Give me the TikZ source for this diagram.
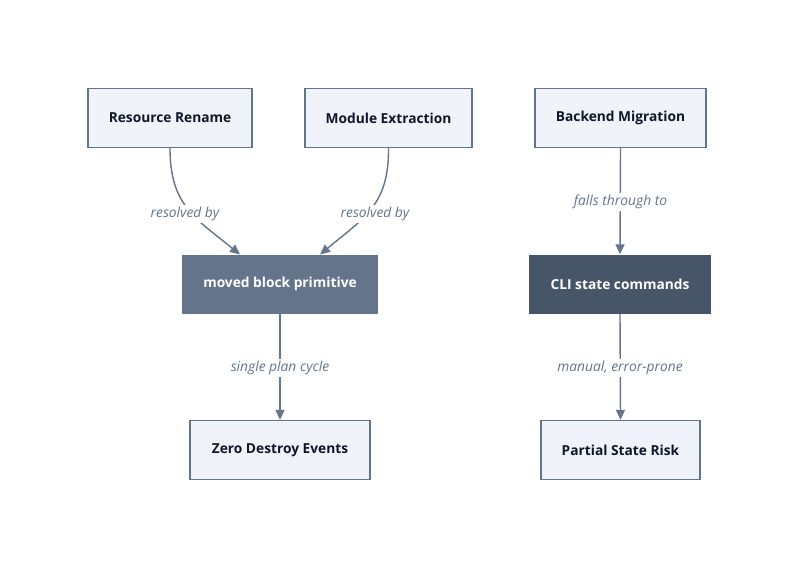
\documentclass[tikz,border=0pt]{standalone}
\usepackage{fontspec}
\setmainfont{Open Sans}
\usetikzlibrary{arrows.meta}
\definecolor{lightfill}{HTML}{F0F3F9}
\definecolor{edge}{HTML}{64748B}
\definecolor{darkA}{HTML}{64748B}
\definecolor{darkB}{HTML}{475569}
\definecolor{txt}{HTML}{0F172A}
\definecolor{lbl}{HTML}{64748B}
\begin{document}
\begin{tikzpicture}[x=1pt,y=-1pt,
  lightbox/.style={draw=edge,line width=1.3pt,fill=lightfill,text=txt,font=\bfseries\fontsize{13.75}{16}\selectfont,minimum height=59pt,inner sep=0pt},
  darkbox/.style={draw=none,text=white,font=\bfseries\fontsize{13.75}{16}\selectfont,minimum height=59pt,inner sep=0pt},
  conn/.style={draw=edge,line width=1.4pt,-{Triangle[length=10pt,width=9pt]}},
  elabel/.style={fill=white,text=lbl,font=\itshape\fontsize{13.8}{16}\selectfont,inner sep=2pt}]
\useasboundingbox (0,0) rectangle (800,568);
\fill[white] (0,0) rectangle (800,568);
\node[lightbox,minimum width=164pt] (rr) at (170,118) {Resource Rename};
\node[lightbox,minimum width=167pt] (me) at (388.5,118) {Module Extraction};
\node[lightbox,minimum width=171pt] (bm) at (620.5,118) {Backend Migration};
\node[darkbox,fill=darkA,minimum width=196pt] (mb) at (280,284) {moved block primitive};
\node[darkbox,fill=darkB,minimum width=182pt] (cli) at (620,284) {CLI state commands};
\node[lightbox,minimum width=180pt] (zd) at (280,450) {Zero Destroy Events};
\node[lightbox,minimum width=159pt] (ps) at (620.5,450) {Partial State Risk};
\coordinate (mbl) at (240,254.5);
\coordinate (mbr) at (320,254.5);
\draw[conn] (rr.south) .. controls (170,205) and (195,218) .. (mbl);
\draw[conn] (me.south) .. controls (389,205) and (364,218) .. (mbr);
\draw[conn] (bm.south) -- (cli.north);
\draw[conn] (mb.south) -- (zd.north);
\draw[conn] (cli.south) -- (ps.north);
\node[elabel] (l1) at (185,214) {resolved by};
\node[elabel] (l2) at (375,214) {resolved by};
\node[elabel] (l3) at (620.5,202) {falls through to};
\node[elabel] (l4) at (280,368) {single plan cycle};
\node[elabel] (l5) at (620,368) {manual, error-prone};
\end{tikzpicture}
\end{document}
